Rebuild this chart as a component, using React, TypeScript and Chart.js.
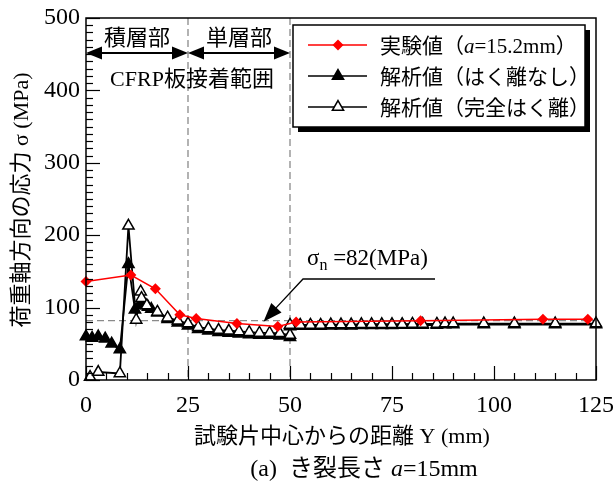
import React, { useEffect, useRef } from "react";
import { Chart, registerables } from "chart.js";

Chart.register(...registerables);

// 実験値 (a = 15.2 mm)
const expX = [0, 11, 17, 23, 27, 37, 47, 51.5, 82, 112, 123];
const expY = [136, 145, 126, 90, 85, 78, 74, 80, 82, 84, 84];

// 解析値 (はく離なし)
const bondX = [0, 1.5, 3, 4.7, 6.3, 8.3, 10.4, 12, 13, 13.7, 14.4, 15.2, 16, 17.5, 20, 22.5, 25, 27.5, 30, 32.5, 35, 37.5, 40, 42.5, 45, 47.5, 50, 50, 52.5, 55, 57.5, 60, 62.5, 65, 67.5, 70, 72.5, 75, 77.5, 80, 82.5, 86, 88, 90, 97.5, 105, 115, 125];
const bondY = [60, 58, 60, 57, 50, 42, 160, 97, 103, 106, 104, 101, 98, 93, 84, 79, 75, 70, 68, 66, 65, 64, 63, 62, 62, 61, 59, 74, 74.5, 74.5, 74.5, 75, 75, 75, 75.5, 75.5, 75.5, 75.5, 76, 76, 76, 76, 76.5, 76.5, 76.5, 76.5, 76.5, 76.5];

// 解析値 (完全はく離)
const debondX = [1, 3, 8.3, 10.4, 12.3, 13.4, 13.6, 14.9, 17.5, 20, 22.5, 25, 27.5, 30, 32.5, 35, 37.5, 40, 42.5, 45, 47.5, 50, 50, 52.5, 55, 57.5, 60, 62.5, 65, 67.5, 70, 72.5, 75, 77.5, 80, 82.5, 86, 88, 90, 97.5, 105, 115, 125];
const debondY = [4, 11, 9, 213, 83, 122, 113, 103, 94, 86, 82, 78, 73, 71, 69, 68, 67, 66, 65, 65, 64.5, 62, 76, 76, 76, 76, 76.5, 76.5, 76.5, 77, 77, 77, 77, 77, 77.5, 77.5, 77.5, 78, 78, 78, 78, 78, 78];

const xTickValues = [0, 25, 50, 75, 100, 125];
const yTickValues = [0, 100, 200, 300, 400, 500];
const xMinorStep = 5;
const yMinorStep = 10;
const zoneBounds = [0, 25, 50];
const zoneNames = ["積層部", "単層部"];
const bondRangeLabel = "CFRP板接着範囲";
const sigmaN = 82;

const legendLabels = [
  [{ t: "実験値（" }, { t: "a", italic: true }, { t: "=15.2mm）" }],
  [{ t: "解析値（はく離なし）" }],
  [{ t: "解析値（完全はく離）" }],
];
const yTitle = "荷重軸方向の応力 σ (MPa)";
const xTitle = "試験片中心からの距離 Y (mm)";
const caption = [{ t: "(a)  き裂長さ " }, { t: "a", italic: true }, { t: "=15mm" }];

const FONT = "'Liberation Serif', 'Noto Sans CJK JP', serif";

type Run = { t: string; italic?: boolean; size?: number; dy?: number };

function drawRuns(ctx: CanvasRenderingContext2D, runs: Run[], x: number, y: number, size: number, align: "left" | "center") {
  const fontOf = (r: Run) => `${r.italic ? "italic " : ""}${r.size ?? size}px ${FONT}`;
  let total = 0;
  for (const r of runs) {
    ctx.font = fontOf(r);
    total += ctx.measureText(r.t).width;
  }
  let cx = align === "center" ? x - total / 2 : x;
  ctx.textAlign = "left";
  ctx.textBaseline = "alphabetic";
  for (const r of runs) {
    ctx.font = fontOf(r);
    ctx.fillText(r.t, cx, y + (r.dy ?? 0));
    cx += ctx.measureText(r.t).width;
  }
}

function arrowHead(ctx: CanvasRenderingContext2D, tx: number, ty: number, fx: number, fy: number, len: number, half: number) {
  const ang = Math.atan2(ty - fy, tx - fx);
  const bx = tx - Math.cos(ang) * len;
  const by = ty - Math.sin(ang) * len;
  ctx.beginPath();
  ctx.moveTo(tx, ty);
  ctx.lineTo(bx + Math.sin(ang) * half, by - Math.cos(ang) * half);
  ctx.lineTo(bx - Math.sin(ang) * half, by + Math.cos(ang) * half);
  ctx.closePath();
  ctx.fill();
}

function marker(ctx: CanvasRenderingContext2D, kind: string, x: number, y: number) {
  ctx.beginPath();
  if (kind === "diamond") {
    const r = 5.5;
    ctx.moveTo(x, y - r);
    ctx.lineTo(x + r, y);
    ctx.lineTo(x, y + r);
    ctx.lineTo(x - r, y);
    ctx.closePath();
    ctx.fillStyle = "#ff0000";
    ctx.fill();
  } else {
    const r = 6.5;
    ctx.moveTo(x, y - r);
    ctx.lineTo(x + r * Math.sin(Math.PI / 3), y + r / 2);
    ctx.lineTo(x - r * Math.sin(Math.PI / 3), y + r / 2);
    ctx.closePath();
    ctx.fillStyle = kind === "filled" ? "#000" : "#fff";
    ctx.fill();
    ctx.strokeStyle = "#000";
    ctx.lineWidth = 1.5;
    ctx.stroke();
  }
}

const decorations = {
  id: "decorations",
  beforeDatasetsDraw(chart: any) {
    const { ctx, chartArea: a, scales } = chart;
    const x = scales.x;
    const y = scales.y;
    ctx.save();
    ctx.strokeStyle = "#8a8a8a";
    ctx.lineWidth = 1.3;
    ctx.setLineDash([7, 4]);
    for (const b of zoneBounds.slice(1)) {
      const px = x.getPixelForValue(b);
      ctx.beginPath();
      ctx.moveTo(px, a.top);
      ctx.lineTo(px, a.bottom);
      ctx.stroke();
    }
    const py = y.getPixelForValue(sigmaN);
    ctx.beginPath();
    ctx.moveTo(a.left, py);
    ctx.lineTo(a.right, py);
    ctx.stroke();
    ctx.restore();
  },
  afterDatasetsDraw(chart: any) {
    const { ctx, chartArea: a, scales } = chart;
    const x = scales.x;
    const y = scales.y;
    ctx.save();
    ctx.fillStyle = "#000";
    ctx.strokeStyle = "#000";

    // frame
    ctx.lineWidth = 1.5;
    ctx.strokeRect(a.left, a.top, a.right - a.left, a.bottom - a.top);

    // inward ticks
    ctx.lineWidth = 1.2;
    for (let v = 0; v <= 500; v += yMinorStep) {
      const py = Math.round(y.getPixelForValue(v)) + 0.5;
      const len = v % 100 === 0 ? 14 : 7;
      ctx.beginPath();
      ctx.moveTo(a.left, py);
      ctx.lineTo(a.left + len, py);
      ctx.stroke();
    }
    for (let v = 0; v <= 125; v += xMinorStep) {
      const px = Math.round(x.getPixelForValue(v)) + 0.5;
      const len = v % 25 === 0 ? 14 : 7;
      ctx.beginPath();
      ctx.moveTo(px, a.bottom);
      ctx.lineTo(px, a.bottom - len);
      ctx.stroke();
    }

    // zone annotation
    const x0 = x.getPixelForValue(zoneBounds[0]);
    const x1 = x.getPixelForValue(zoneBounds[1]);
    const x2 = x.getPixelForValue(zoneBounds[2]);
    const ay = 53;
    ctx.lineWidth = 2;
    for (const [l, r] of [[x0, x1], [x1, x2]]) {
      ctx.beginPath();
      ctx.moveTo(l + 8, ay);
      ctx.lineTo(r - 8, ay);
      ctx.stroke();
      arrowHead(ctx, l, ay, r, ay, 16, 6.5);
      arrowHead(ctx, r, ay, l, ay, 16, 6.5);
    }
    drawRuns(ctx, [{ t: zoneNames[0] }], (x0 + x1) / 2, 45, 22, "center");
    drawRuns(ctx, [{ t: zoneNames[1] }], (x1 + x2) / 2, 45, 22, "center");
    drawRuns(ctx, [{ t: bondRangeLabel }], (x0 + x2) / 2 + 4, 86, 22, "center");

    // σn callout
    const tipX = x.getPixelForValue(43.5);
    const tipY = y.getPixelForValue(sigmaN) + 1;
    ctx.lineWidth = 1.3;
    ctx.beginPath();
    ctx.moveTo(435, 279);
    ctx.lineTo(303, 279);
    ctx.lineTo(tipX + 10, tipY - 11);
    ctx.stroke();
    arrowHead(ctx, tipX, tipY, 303, 279, 19, 7);
    drawRuns(
      ctx,
      [{ t: "σ" }, { t: "n", size: 16, dy: 5 }, { t: " =82(MPa)" }],
      307,
      265,
      23,
      "left"
    );

    // legend box with drop shadow
    const lx = 293, ly = 25, lw = 292, lh = 102;
    ctx.fillStyle = "#000";
    ctx.fillRect(lx + 5, ly + 5, lw, lh);
    ctx.fillStyle = "#fff";
    ctx.fillRect(lx, ly, lw, lh);
    ctx.lineWidth = 1.5;
    ctx.strokeStyle = "#000";
    ctx.strokeRect(lx, ly, lw, lh);
    const rows = [45, 76, 107];
    const kinds = ["diamond", "filled", "open"];
    rows.forEach((ry, i) => {
      ctx.strokeStyle = i === 0 ? "#ff0000" : "#000";
      ctx.lineWidth = 1.5;
      ctx.beginPath();
      ctx.moveTo(308, ry);
      ctx.lineTo(367, ry);
      ctx.stroke();
      marker(ctx, kinds[i], 338, ry);
      ctx.fillStyle = "#000";
      drawRuns(ctx, legendLabels[i] as Run[], 380, ry + 8, 21, "left");
    });

    // axis titles and caption
    ctx.fillStyle = "#000";
    drawRuns(ctx, [{ t: xTitle }], 342, 443, 22, "center");
    drawRuns(ctx, caption as Run[], 364, 476, 24, "center");
    ctx.save();
    ctx.translate(28, 200);
    ctx.rotate(-Math.PI / 2);
    drawRuns(ctx, [{ t: yTitle }], 0, 0, 22, "center");
    ctx.restore();

    ctx.restore();
  },
};

export default function App() {
  const canvasRef = useRef<HTMLCanvasElement | null>(null);

  useEffect(() => {
    if (!canvasRef.current) return;
    const pts = (xs: number[], ys: number[]) => xs.map((v, i) => ({ x: v, y: ys[i] }));
    const chart = new Chart(canvasRef.current, {
      type: "line",
      data: {
        datasets: [
          {
            label: "実験値",
            data: pts(expX, expY),
            borderColor: "#ff0000",
            backgroundColor: "#ff0000",
            borderWidth: 1.5,
            pointStyle: "rectRot",
            pointRadius: 5.5,
            pointBorderWidth: 0,
            pointBackgroundColor: "#ff0000",
            clip: false,
          },
          {
            label: "解析値（完全はく離）",
            data: pts(debondX, debondY),
            borderColor: "#000",
            borderWidth: 1.8,
            pointStyle: "triangle",
            pointRadius: 6.5,
            pointBorderWidth: 1.5,
            pointBorderColor: "#000",
            pointBackgroundColor: "#fff",
            clip: false,
          },
          {
            label: "解析値（はく離なし）",
            data: pts(bondX, bondY),
            borderColor: "#000",
            borderWidth: 1.8,
            pointStyle: "triangle",
            pointRadius: 6.5,
            pointBorderWidth: 1.5,
            pointBorderColor: "#000",
            pointBackgroundColor: "#000",
            clip: false,
          },
        ],
      },
      options: {
        responsive: false,
        animation: false,
        devicePixelRatio: 1,
        layout: { padding: { top: 18, right: 17, left: 0, bottom: 0 } },
        plugins: { legend: { display: false }, tooltip: { enabled: false } },
        scales: {
          x: {
            type: "linear",
            min: 0,
            max: 125,
            afterBuildTicks: (s: any) => {
              s.ticks = xTickValues.map((v) => ({ value: v }));
            },
            ticks: { color: "#000", font: { family: FONT, size: 24 }, padding: 11 },
            grid: { display: false, drawTicks: false },
            border: { display: false },
            afterFit: (s: any) => {
              s.height = 102;
              s.paddingLeft = 0;
              s.paddingRight = 0;
            },
          },
          y: {
            type: "linear",
            min: 0,
            max: 500,
            afterBuildTicks: (s: any) => {
              s.ticks = yTickValues.map((v) => ({ value: v }));
            },
            ticks: { color: "#000", font: { family: FONT, size: 24 }, padding: 6 },
            grid: { display: false, drawTicks: false },
            border: { display: false },
            afterFit: (s: any) => {
              s.width = 86;
              s.paddingTop = 0;
              s.paddingBottom = 0;
            },
          },
        },
      },
      plugins: [decorations],
    });
    return () => chart.destroy();
  }, []);

  return (
    <div style={{ position: "fixed", left: 0, top: 0, width: 613, height: 482, background: "#fff" }}>
      <canvas ref={canvasRef} width={613} height={482} />
    </div>
  );
}
